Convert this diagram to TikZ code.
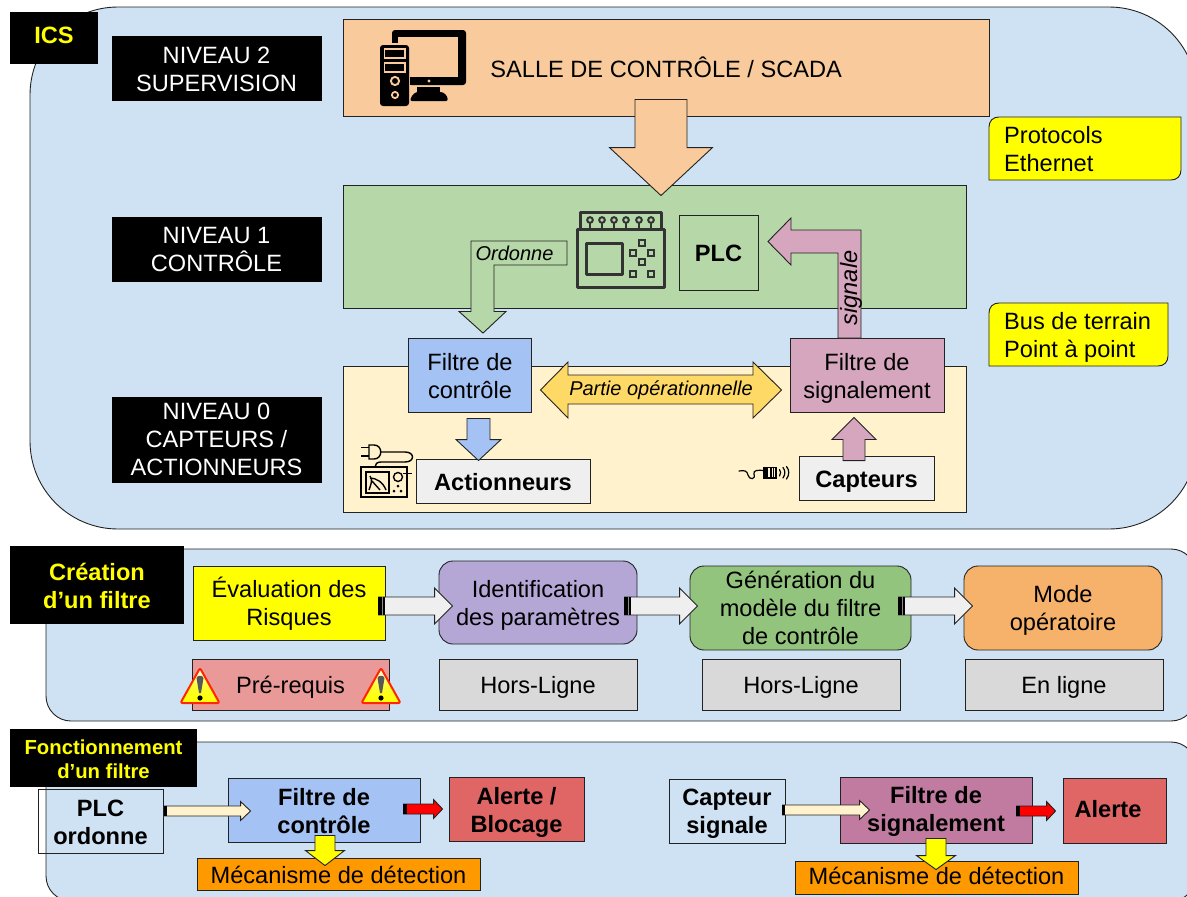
\documentclass[tikz,border=0pt]{standalone}
\usepackage{fontspec}
\setmainfont{Liberation Sans}
\usetikzlibrary{calc,shapes.geometric}
\definecolor{panel}{HTML}{CFE2F3}
\definecolor{cOrange}{HTML}{F9CB9C}
\definecolor{cGreen}{HTML}{B6D7A8}
\definecolor{cCream}{HTML}{FFF2CC}
\definecolor{cBlue}{HTML}{A4C2F4}
\definecolor{cPink}{HTML}{D5A6BD}
\definecolor{cGold}{HTML}{FFD966}
\definecolor{cPurple}{HTML}{B4A7D6}
\definecolor{cGreenB}{HTML}{93C47D}
\definecolor{cOrangeB}{HTML}{F6B26B}
\definecolor{cSalmon}{HTML}{EA9999}
\definecolor{cGray}{HTML}{D9D9D9}
\definecolor{cMag}{HTML}{C27BA0}
\definecolor{cRed}{HTML}{E06666}
\definecolor{cAmber}{HTML}{FF9900}
\definecolor{cLight}{HTML}{EFEFEF}
\definecolor{cYel}{HTML}{FFFF00}
\definecolor{cLine}{HTML}{222222}
% style, name, x1, y1, x2, y2, text shift, text
\newcommand\bx[8]{%
  \node[#1,minimum width={#5-#3},minimum height={#6-#4}] (#2) at ({(#3+#5)/2},{(#4+#6)/2}) {};
  \node[#1,draw=none,fill=none] (#2T) at ([yshift=-#7pt]#2.center) {#8};}
\newcommand\blk[6]{%
  \coordinate (bA) at #2; \coordinate (bB) at #3;
  \coordinate (bH) at ($(bB)!#6pt!(bA)$);
  \draw[arrowline,#1] ($(bA)!#4pt!90:(bB)$) -- ($(bH)!#4pt!-90:(bA)$) -- ($(bH)!#5pt!-90:(bA)$) -- (bB) --
    ($(bH)!#5pt!90:(bA)$) -- ($(bH)!#4pt!90:(bA)$) -- ($(bA)!#4pt!-90:(bB)$) -- cycle;}
\newcommand\warn[2]{%
  \begin{scope}[shift={(#1,#2)}]
    \shade[top color=white,bottom color=cYel,middle color=cYel!80!white,draw=red!70!orange,line width=2pt,rounded corners=2pt,line join=round]
      (0,-18) -- (19.5,17) -- (-19.5,17) -- cycle;
    \fill[black!65] (-3.5,-8) .. controls (-3,-11) and (3,-11) .. (3.5,-8) -- (1,7) -- (-1,7) -- cycle;
    \fill[black] (0,12) circle (2.6);
  \end{scope}}
\tikzset{
  base/.style={draw=cLine,line width=0.9pt,inner sep=0pt,align=center,text=black,font=\fontsize{23.6}{28}\selectfont},
  bold/.style={base,font=\fontsize{23.6}{28}\selectfont\bfseries},
  nivbox/.style={base,fill=black,draw=black,text=white},
  tagbox/.style={inner sep=0pt,fill=black,align=center,text=cYel,font=\fontsize{23.6}{28}\selectfont\bfseries},
  arrowline/.style={draw=cLine,line width=0.9pt,line join=miter},
  panelbox/.style={draw=cLine,line width=0.9pt,fill=panel},
  iconline/.style={draw=#1,line width=3pt,line join=round},
  arrowtext/.style={inner sep=0pt,font=\fontsize{20}{24}\selectfont\itshape},
  yellownote/.style={draw=cLine,line width=0.9pt,fill=cYel},
  notetext/.style={inner sep=0pt,anchor=north west,align=left,font=\fontsize{23.6}{28}\selectfont}
}
\begin{document}
\begin{tikzpicture}[x=1pt,y=-1pt]
\useasboundingbox (0,0) rectangle (1187,897);
\clip (0,0) rectangle (1187,897);
% panels
\draw[panelbox,rounded corners=88pt] (30,7) rectangle (1197,529);
\draw[panelbox,rounded corners=25pt] (46,549) rectangle (1196,721);
\draw[panelbox,rounded corners=25pt] (46,742) rectangle (1196,901);
% tags
\bx{tagbox}{tagICS}{10}{12}{98}{64}{-3}{ICS}
\bx{tagbox}{tagCre}{10}{546}{184}{624}{0.5}{Création\\d’un filtre}
\bx{tagbox,font=\fontsize{20.3}{24}\selectfont\bfseries}{tagFon}{10}{729}{197}{787}{1}{Fonctionnement\\d’un filtre}
% levels
\bx{nivbox}{niv2}{112}{36}{321}{100}{1}{NIVEAU 2\\SUPERVISION}
\bx{nivbox}{niv1}{112}{217}{321}{281}{0}{NIVEAU 1\\CONTRÔLE}
\bx{nivbox}{niv0}{112}{397}{321}{482}{0}{NIVEAU 0\\CAPTEURS /\\ACTIONNEURS}
% zones
\bx{base,fill=cOrange}{salle}{343}{19}{989}{116}{0}{}
\node[base,draw=none,anchor=west] (salleT2) at (490,67.5) {SALLE DE CONTRÔLE / SCADA};
\bx{base,fill=cGreen}{ctrl}{343}{185}{966}{308}{0}{}
\bx{base,fill=cCream}{oper}{343}{366}{966}{512}{0}{}
% computer icon
\fill[black,rounded corners=3pt] (392,30) rectangle (466,85);
\fill[cOrange] (398,37) rectangle (458,77);
\fill[cOrange,rounded corners=3pt] (378,43) rectangle (411,108);
\fill[black,rounded corners=3pt] (380,45) rectangle (409,106);
\fill[black] (410,77) rectangle (430,85);
\foreach \yy in {49,63} {\draw[cOrange,line width=1.2pt,fill=black] (384.5,\yy) rectangle (405,\yy+9);}
\draw[cOrange,line width=1.9pt] (395,81) circle (4.1);
\draw[cOrange,line width=1.8pt] (395,95) circle (3.1);
\fill[cOrange] (429,81) circle (1.6);
\fill[black] (417,87) rectangle (440,92);
\fill[black,rounded corners=2pt] (410,101) .. controls (412,94) and (416,92) .. (420,92) -- (438,92) .. controls (444,92) and (447,95) .. (448,101) -- cycle;
% big arrow
\coordinate (bigTail) at ([shift={(-5,-17)}]salle.south);
\coordinate (bigTip) at ([shift={(6.5,11)}]ctrl.north);
\blk{fill=cOrange}{(bigTail)}{(bigTip)}{26}{51.5}{48}
% PLC
\bx{bold,fill=cGreen}{plc}{679}{215}{758}{290}{1}{PLC}
\draw[iconline=black!80] (580,229) rectangle (661,212);
\draw[iconline=black!80] (577.5,229) rectangle (664,287.5);
\foreach \xx in {590,602,614,626,639,651} {\draw[black!80,line width=2pt] (\xx,220) circle (2.8); \draw[black!80,line width=2pt] (\xx,223) -- (\xx,228);}
\draw[iconline=black!80] (586,243) rectangle (622,274);
\foreach \xx/\yy in {642/243,633/253,651/253,642/262,633/274,651/274} {\draw[black!80,line width=2.2pt] (\xx-3,\yy-3) rectangle (\xx+3,\yy+3);}
% filters
\bx{base,fill=cBlue}{fc}{408.5}{338}{531.5}{412}{1}{Filtre de\\contrôle}
\bx{base,fill=cPink}{fs}{790}{338}{944}{412}{3}{Filtre de\\signalement}
% bent arrows
\draw[arrowline,fill=cGreen] (471,241) -- (567,241) -- (567,265) -- (494,265) -- (494,311.5) -- (506,311.5) -- ([shift={(13,-4.5)}]fc.north) -- (459,311.5) -- (471,311.5) -- cycle;
\node[arrowtext] (ordT) at (514.5,253) {Ordonne};
\draw[arrowline,fill=cPink] (838,338) -- (838,253) -- (791,253) -- (791,265) -- ([shift={(9.5,-11)}]plc.east) -- (791,218) -- (791,230) -- (861,230) -- (861,338) -- cycle;
\node[arrowtext,font=\fontsize{23.6}{28}\selectfont\itshape,rotate=90] (sigT) at (851,288) {signale};
% actuators / sensors
\bx{bold,fill=cLight}{act}{416}{459}{590}{503}{1}{Actionneurs}
\bx{bold,fill=cLight}{cap}{799}{456}{934}{500}{4}{Capteurs}
\coordinate (aTail) at ([shift={(8.5,6)}]fc.south);
\coordinate (aTip) at ([shift={(-24.5,2)}]act.north);
\blk{fill=cBlue}{(aTail)}{(aTip)}{11.5}{22.5}{21}
\coordinate (cTail) at ([shift={(-12.5,5)}]cap.north);
\coordinate (cTip) at ([shift={(-13,5)}]fs.south);
\blk{fill=cPink}{(cTail)}{(cTip)}{11}{22}{22}
% double arrow
\draw[arrowline,fill=cGold] ([shift={(8.5,15)}]fc.east) -- (568,362) -- (568,375) -- (753,375) -- (753,362) -- ([shift={(-8,15)}]fs.west) -- (753,418) -- (753,404) -- (568,404) -- (568,418) -- cycle;
\node[arrowtext] (partT) at (661,390) {Partie opérationnelle};
% actuator icon
\begin{scope}[line width=1.4pt,draw=black]
\draw (361,447.5) -- (369,447.5) (361,456) -- (369,456);
\draw (369,445) -- (374,445) .. controls (383,445) and (383,459) .. (374,459) -- (369,459) -- cycle;
\draw (381,452) -- (405,452) .. controls (415,452) and (415,462) .. (405,462) -- (381,462) .. controls (377,462) and (375,464) .. (375,467);
\draw[line width=1.6pt] (361,467) rectangle (407,497);
\draw (366,472) rectangle (389,493);
\draw (369,490) .. controls (371,484) and (373,480) .. (370,476) (370,478) .. controls (376,478) and (383,482) .. (386,490) (372,481) -- (380,490);
\draw (398,477) circle (4.5);
\draw (403,473.5) -- (412,473.5);
\end{scope}
\fill (398,486) circle (1.5) (394,491) circle (1.5) (401,491) circle (1.5);
% sensor icon
\begin{scope}[line width=1.2pt,draw=black,line cap=round]
\draw (739,471) .. controls (745,470) and (747,471) .. (748,475) .. controls (749,480) and (756,480) .. (754,474) .. controls (753,470) and (758,470) .. (764,470.5);
\draw (764,467.5) rectangle (776,478);
\fill (764,467.5) rectangle (768,478);
\draw (771,467.5) -- (771,478) (773.5,467.5) -- (773.5,478);
\draw (779.5,469.5) .. controls (781,471) and (781,474) .. (779.5,476);
\draw (783,467.5) .. controls (785.5,471) and (785.5,474) .. (783,478);
\draw (786.5,466.5) .. controls (789.5,470) and (789.5,475) .. (786.5,479);
\end{scope}
% notes
\draw[yellownote] (999,117) -- (1181,117) -- (1181,170) .. controls (1181,176) and (1177,180) .. (1171,180) -- (989,180) -- (989,127) .. controls (989,121) and (993,117) .. (999,117) -- cycle;
\node[notetext] (protoT) at (1004,126) {Protocols\\Ethernet};
\draw[yellownote] (999,303) -- (1168,303) -- (1168,356) .. controls (1168,362) and (1164,366) .. (1158,366) -- (989,366) -- (989,313) .. controls (989,307) and (993,303) .. (999,303) -- cycle;
\node[notetext] (busT) at (1004,312) {Bus de terrain\\Point à point};
% creation row
\bx{base,fill=cYel}{eval}{193}{566}{385}{640}{1}{Évaluation des\\Risques}
\bx{base,fill=cPurple,rounded corners=14pt}{ident}{439}{561}{637}{644}{3}{Identification\\des paramètres}
\bx{base,fill=cGreenB,rounded corners=14pt}{gen}{690}{566}{911}{650}{0}{Génération du\\modèle du filtre\\de contrôle}
\bx{base,fill=cOrangeB,rounded corners=14pt}{mode}{964}{566}{1162}{650}{2}{Mode\\opératoire}
\bx{base,fill=cSalmon}{pre}{192}{659}{389}{710}{3}{Pré-requis}
\bx{base,fill=cGray}{hl1}{439}{659}{637}{710}{3}{Hors-Ligne}
\bx{base,fill=cGray}{hl2}{702}{659}{900}{710}{3}{Hors-Ligne}
\bx{base,fill=cGray}{enl}{965}{659}{1163}{710}{3}{En ligne}
\warn{200}{686}
\warn{381}{686}
\coordinate (e1a) at ([shift={(-7,3)}]eval.east);
\coordinate (e1b) at ([shift={(14,3.5)}]ident.west);
\blk{fill=cLight}{(e1a)}{(e1b)}{9}{18}{18}
\coordinate (e2a) at ([shift={(-13,3.5)}]ident.east);
\coordinate (e2b) at ([shift={(8,-2)}]gen.west);
\blk{fill=cLight}{(e2a)}{(e2b)}{9}{18}{18}
\coordinate (e3a) at ([shift={(-13,-2)}]gen.east);
\coordinate (e3b) at ([shift={(9,-2)}]mode.west);
\blk{fill=cLight}{(e3a)}{(e3b)}{9}{18}{18}
\foreach \xx in {378,624,898} {\fill[black] (\xx,597) rectangle (\xx+6.5,615); \fill[black!45] (\xx+3.5,597) rectangle (\xx+4.5,615);}
% operation row
\bx{bold}{plcO}{38}{789}{163}{853}{1}{PLC\\ordonne}
\bx{bold,fill=cBlue}{filC}{228}{778}{420}{842}{1}{Filtre de\\contrôle}
\bx{bold,fill=cRed}{alB}{449}{777}{584}{841}{3}{Alerte /\\Blocage}
\bx{bold}{capS}{669}{779}{785}{843}{3}{Capteur\\signale}
\bx{bold,fill=cMag}{filS}{840}{777}{1032}{843}{1.5}{Filtre de\\signalement}
\node[bold,fill=cRed,minimum width=103,minimum height=65] (alS) at (1114.5,810.5) {};
\node[bold,draw=none] (alST) at (1108,809) {Alerte};
\bx{base,fill=cAmber}{mecL}{197}{858}{480}{890}{1}{Mécanisme de détection}
\bx{base,fill=cAmber}{mecR}{795}{861}{1078}{894}{-2}{Mécanisme de détection}
\coordinate (f1a) at ([shift={(0,-10)}]plcO.east);
\coordinate (f1b) at ([shift={(23,1)}]filC.west);
\blk{fill=cCream}{(f1a)}{(f1b)}{5}{9.5}{10}
\coordinate (f2a) at ([shift={(-17,-1)}]filC.east);
\coordinate (f2b) at ([shift={(-6,0)}]alB.west);
\blk{fill=red}{(f2a)}{(f2b)}{5}{9.5}{9}
\coordinate (f3a) at ([shift={(-3,-1)}]capS.east);
\coordinate (f3b) at ([shift={(30,0)}]filS.west);
\blk{fill=cCream}{(f3a)}{(f3b)}{5}{9.5}{10}
\coordinate (f4a) at ([shift={(-16,1)}]filS.east);
\coordinate (f4b) at ([shift={(-7,0.5)}]alS.west);
\blk{fill=red}{(f4a)}{(f4b)}{5}{9.5}{9}
\fill[black] (164,806) rectangle (167,816);
\fill[black] (403,804) rectangle (407,814);
\fill[black] (782,805) rectangle (785,815);
\fill[black] (1016,806) rectangle (1020,816);
\coordinate (y1a) at ([shift={(1,-7)}]filC.south);
\coordinate (y1b) at ([shift={(-13.5,8)}]mecL.north);
\blk{fill=cYel}{(y1a)}{(y1b)}{10}{19.5}{15}
\coordinate (y2a) at ([shift={(0,-5)}]filS.south);
\coordinate (y2b) at ([shift={(-0.5,9)}]mecR.north);
\blk{fill=cYel}{(y2a)}{(y2b)}{10}{19.5}{14}
\end{tikzpicture}
\end{document}
